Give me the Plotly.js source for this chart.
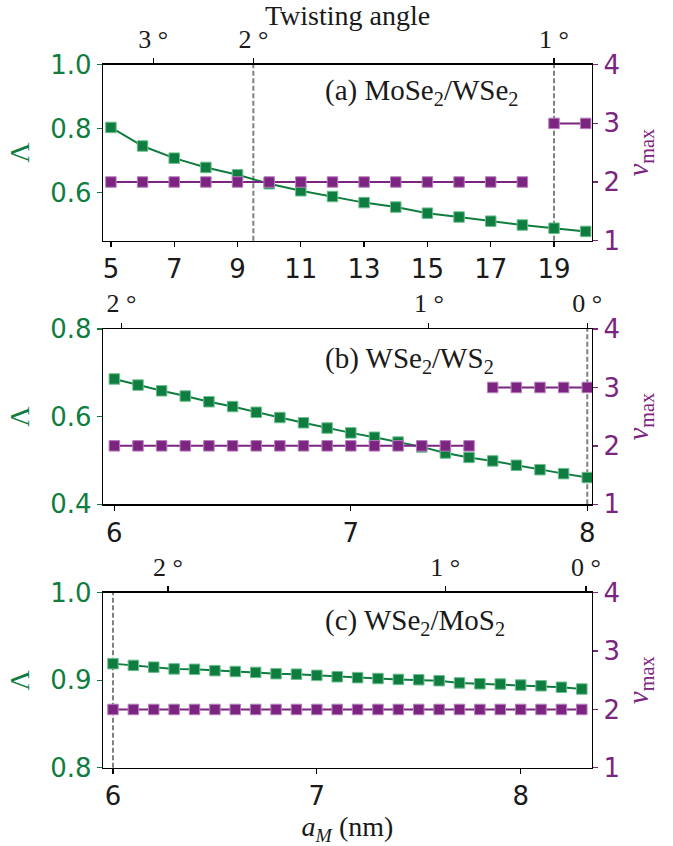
<!DOCTYPE html>
<html><head><meta charset="utf-8">
<script src="https://cdn.plot.ly/plotly-3.0.1.min.js"></script>
<style>html,body{margin:0;padding:0;background:#fff}</style>
</head><body><div id="chart" style="width:673px;height:846px"></div>
<script>
// ---------- Panel (a) MoSe2/WSe2 ----------
const aM_a = [5,6,7,8,9,10,11,12,13,14,15,16,17,18,19,20];
const lambda_a = [0.804,0.746,0.708,0.679,0.656,0.628,0.606,0.588,0.569,0.555,0.536,0.524,0.511,0.499,0.489,0.479];
const nu_a = [2,2,2,2,2,2,2,2,2,2,2,2,2,2,3,3];
const angleTickPos_a = [6.34, 9.5, 19.0];
const angleTickText_a = ['3 °','2 °','1 °'];
const dash_a = [9.5, 19.0];
const label_a = '(a) MoSe<sub>2</sub>/WSe<sub>2</sub>';

// ---------- Panel (b) WSe2/WS2 ----------
const aM_b = [6.0,6.1,6.2,6.3,6.4,6.5,6.6,6.7,6.8,6.9,7.0,7.1,7.2,7.3,7.4,7.5,7.6,7.7,7.8,7.9,8.0];
const lambda_b = [0.686,0.672,0.659,0.647,0.634,0.623,0.610,0.598,0.586,0.574,0.563,0.553,0.542,0.531,0.517,0.507,0.499,0.489,0.479,0.470,0.461];
const nu_b = [2,2,2,2,2,2,2,2,2,2,2,2,2,2,2,2,3,3,3,3,3];
const angleTickPos_b = [6.03, 7.33, 8.0];
const angleTickText_b = ['2 °','1 °','0 °'];
const dash_b = [8.0];
const label_b = '(b) WSe<sub>2</sub>/WS<sub>2</sub>';

// ---------- Panel (c) WSe2/MoS2 ----------
const aM_c = [6.0,6.1,6.2,6.3,6.4,6.5,6.6,6.7,6.8,6.9,7.0,7.1,7.2,7.3,7.4,7.5,7.6,7.7,7.8,7.9,8.0,8.1,8.2,8.3];
const lambda_c = [0.919,0.917,0.915,0.913,0.9125,0.911,0.910,0.909,0.9075,0.907,0.9056,0.904,0.903,0.902,0.901,0.9006,0.8995,0.897,0.896,0.8957,0.8945,0.8937,0.892,0.890];
const nu_c = [2,2,2,2,2,2,2,2,2,2,2,2,2,2,2,2,2,2,2,2,2,2,2,2];
const angleTickPos_c = [6.27, 7.63, 8.32];
const angleTickText_c = ['2 °','1 °','0 °'];
const dash_c = [6.0];
const label_c = '(c) WSe<sub>2</sub>/MoS<sub>2</sub>';

// ---------- styling ----------
const GREEN = '#0f7d3f', GREEN_EDGE = '#6cc08e';
const PURPLE = '#7b2580', PURPLE_EDGE = '#b87dbe';
const SANS = 'DejaVu Sans, sans-serif';
const SERIF = 'Liberation Serif, serif';

const panels = [
  {x:aM_a, lam:lambda_a, nu:nu_a, tp:angleTickPos_a, tt:angleTickText_a, dash:dash_a, label:label_a,
   xr:[4.75,20.2], yr:[0.45,1.0], yt:[0.6,0.8,1.0], xt:[5,7,9,11,13,15,17,19], dom:[0.7155,0.9235], ly:0.845},
  {x:aM_b, lam:lambda_b, nu:nu_b, tp:angleTickPos_b, tt:angleTickText_b, dash:dash_b, label:label_b,
   xr:[5.952,8.02], yr:[0.4,0.8], yt:[0.4,0.6,0.8], xt:[6,7,8], dom:[0.4039,0.6111], ly:0.825},
  {x:aM_c, lam:lambda_c, nu:nu_c, tp:angleTickPos_c, tt:angleTickText_c, dash:dash_c, label:label_c,
   xr:[5.951,8.35], yr:[0.8,1.0], yt:[0.8,0.9,1.0], xt:[6,7,8], dom:[0.0924,0.2994], ly:0.83}
];

const data = [];
const layout = {
  width:673, height:846,
  margin:{l:103, r:81, t:0, b:0},
  paper_bgcolor:'#fff', plot_bgcolor:'#fff',
  showlegend:false, shapes:[], annotations:[]
};

panels.forEach((p, i) => {
  const n = i*2;
  const xb = 'x' + (n+1 === 1 ? '' : n+1), xt = 'x' + (n+2);
  const yl = 'y' + (n+1 === 1 ? '' : n+1), yr = 'y' + (n+2);
  const xbKey = 'xaxis' + (n+1 === 1 ? '' : n+1), xtKey = 'xaxis' + (n+2);
  const ylKey = 'yaxis' + (n+1 === 1 ? '' : n+1), yrKey = 'yaxis' + (n+2);

  // Lambda (green)
  data.push({x:p.x, y:p.lam, xaxis:xb, yaxis:yl, type:'scatter', mode:'lines+markers',
    line:{color:GREEN, width:2},
    marker:{symbol:'square', size:10.5, color:GREEN, line:{color:GREEN_EDGE, width:1}},
    hoverinfo:'skip'});
  // nu_max (purple) split into constant segments
  let start = 0;
  for (let k = 1; k <= p.nu.length; k++) {
    if (k === p.nu.length || p.nu[k] !== p.nu[start]) {
      data.push({x:p.x.slice(start,k), y:p.nu.slice(start,k), xaxis:xb, yaxis:yr, type:'scatter', mode:'lines+markers',
        line:{color:PURPLE, width:2},
        marker:{symbol:'square', size:10.5, color:PURPLE, line:{color:PURPLE_EDGE, width:1}},
        hoverinfo:'skip'});
      start = k;
    }
  }
  // invisible trace to create top axis subplot
  data.push({x:[], y:[], xaxis:xt, yaxis:yl, type:'scatter', mode:'markers', hoverinfo:'skip'});

  const common = {showgrid:false, zeroline:false, showline:true, linecolor:'#000', linewidth:1.3,
    ticks:'outside', ticklen:5, tickwidth:1.3};

  layout[xbKey] = Object.assign({}, common, {domain:[0,1], anchor:yl, range:p.xr, tickmode:'array',
    tickvals:p.xt, tickcolor:'#000', tickfont:{family:SANS, size:26, color:'#1a1a1a'}});
  layout[xtKey] = Object.assign({}, common, {overlaying:xb, side:'top', anchor:yl, range:p.xr, tickmode:'array',
    tickvals:p.tp, ticktext:p.tt, tickcolor:'#000', ticklabelstandoff:0,
    tickfont:{family:SERIF, size:26, color:'#1a1a1a'}});
  layout[ylKey] = Object.assign({}, common, {domain:p.dom, anchor:xb, range:p.yr, tickmode:'array',
    tickvals:p.yt, tickformat:'.1f', tickcolor:GREEN, tickfont:{family:SANS, size:26, color:GREEN},
    title:{text:'Λ', font:{family:SERIF, size:28, color:GREEN}, standoff:12}});
  layout[yrKey] = Object.assign({}, common, {overlaying:yl, side:'right', anchor:xb, range:[1,4], tickmode:'array',
    tickvals:[1,2,3,4], tickcolor:PURPLE, tickfont:{family:SANS, size:26, color:PURPLE},
    title:{text:'<i>ν</i><sub>max</sub>', font:{family:SERIF, size:29, color:PURPLE}, standoff:8}});

  p.dash.forEach(v => layout.shapes.push({type:'line', xref:xb, yref:yl + ' domain', x0:v, x1:v, y0:0, y1:1,
    layer:'below', line:{color:'#808080', width:2, dash:'5px,2.5px'}}));

  layout.annotations.push({text:p.label, xref:xb + ' domain', yref:yl + ' domain', x:0.45, y:p.ly,
    xanchor:'left', yanchor:'middle', showarrow:false, font:{family:SERIF, size:29, color:'#1a1a1a'}});
});

layout.xaxis2.title = {text:'Twisting angle', font:{family:SERIF, size:28, color:'#1a1a1a'}, standoff:6};
layout.xaxis5.title = {text:'<i>a</i><sub><i>M</i></sub> (nm)', font:{family:SERIF, size:28, color:'#1a1a1a'}, standoff:6};

Plotly.newPlot('chart', data, layout, {displayModeBar:false, staticPlot:true});
</script></body></html>
